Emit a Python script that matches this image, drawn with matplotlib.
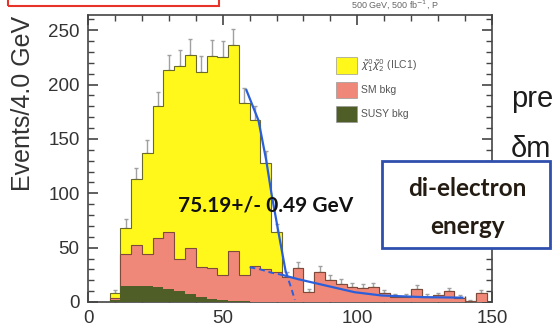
import numpy as np
import matplotlib.pyplot as plt
from matplotlib.patches import Patch, Rectangle
from matplotlib.ticker import MultipleLocator

# 4 GeV bins, 8 .. 152 GeV
bin_edges = np.arange(8, 153, 4)

signal_counts = [4, 24, 61, 93, 121, 149, 177, 177, 180, 195,
                 200, 189, 158, 134, 98, 36, 0, 0, 0, 0,
                 0, 0, 0, 0, 0, 0, 0, 0, 0, 0,
                 0, 0, 0, 0, 0, 0]
sm_counts = [2, 29, 37, 29, 45, 52, 30, 43, 27, 28,
             23, 46, 24, 33, 30, 28, 23, 31, 9, 28,
             20, 17, 14, 13, 14, 8, 5, 5, 12, 5,
             6, 10, 4, 1, 8, 0]
susy_counts = [2, 15, 15, 15, 14, 12, 10, 7, 5, 3,
               2, 1, 1, 0, 0, 0, 0, 0, 0, 0,
               0, 0, 0, 0, 0, 0, 0, 0, 0, 0,
               0, 0, 0, 0, 0, 0]

# fitted curves
edge_fit_e = [58.8, 63.3, 66.2, 68.1, 70.8, 73.4]
edge_fit_v = [195, 167, 130, 100, 63, 28]
edge_tail_e = [73.4, 75.3, 76.8]
edge_tail_v = [28, 14, 2]
bg_dash_e = [60, 64, 68, 72]
bg_dash_v = [32, 30, 27, 25]
bg_fit_e = [72, 78, 85, 92, 99, 109, 124, 139]
bg_fit_v = [25, 21, 17, 13, 9, 6, 4.5, 4]

legend_labels = [r"$\tilde{\chi}_1^0\tilde{\chi}_2^0$ (ILC1)", "SM bkg", "SUSY bkg"]

YELLOW = "#fff81a"
PINK = "#ef8878"
GREEN = "#4e5e26"
BLUE = "#2b5fd9"

W, H = 556, 327


def fx(x):
    return x / W


def fy(y):
    return 1 - y / H


plt.rcParams["font.family"] = ["Liberation Sans", "DejaVu Sans"]

fig = plt.figure(figsize=(W / 100, H / 100), dpi=100)
ax = fig.add_axes([fx(88), fy(302), (492 - 88) / W, (302 - 15) / H])

susy = np.array(susy_counts, dtype=float)
sm_top = susy + np.array(sm_counts)
total = sm_top + np.array(signal_counts)
centers = 0.5 * (bin_edges[:-1] + bin_edges[1:])
err = np.sqrt(total)

ax.errorbar(centers[total > 0], total[total > 0],
            yerr=[np.zeros((total > 0).sum()), err[total > 0]],
            fmt="none", ecolor="#a0a0a0", elinewidth=1, capsize=1.5, zorder=1)

ax.stairs(total, bin_edges, fill=True, color=YELLOW, zorder=2)
ax.stairs(total, bin_edges, color="#6b6a2c", lw=0.8, zorder=2.1)
ax.stairs(sm_top, bin_edges, fill=True, color=PINK, zorder=3)
ax.stairs(sm_top, bin_edges, color="#7d4a3c", lw=0.8, zorder=3.1)
ax.stairs(susy, bin_edges, fill=True, color=GREEN, zorder=4)

ax.plot(edge_fit_e, edge_fit_v, color=BLUE, lw=1.6, zorder=5)
ax.plot(edge_tail_e, edge_tail_v, color=BLUE, lw=1.4, ls=(0, (3, 2)), zorder=5)
ax.plot(bg_dash_e, bg_dash_v, color=BLUE, lw=1.4, ls=(0, (3, 2)), zorder=5)
ax.plot(bg_fit_e, bg_fit_v, color=BLUE, lw=1.6, zorder=5)

ax.set_xlim(0, 150)
ax.set_ylim(0, 264)
ax.xaxis.set_major_locator(MultipleLocator(50))
ax.xaxis.set_minor_locator(MultipleLocator(10))
ax.yaxis.set_major_locator(MultipleLocator(50))
ax.yaxis.set_minor_locator(MultipleLocator(10))
ax.tick_params(which="both", direction="in", top=True, right=True,
               colors="#444", labelcolor="#333", labelsize=13.5)
ax.tick_params(which="major", length=7.5, width=1.2, pad=6)
ax.tick_params(which="minor", length=4, width=1)
for s in ax.spines.values():
    s.set_color("#444")
    s.set_linewidth(1.2)

fig.text(fx(23), fy(103), "Events/4.0 GeV", rotation=90, ha="center", va="center",
         fontsize=18, color="#333")

handles = [Patch(facecolor=c, edgecolor="#999", lw=0.5) for c in (YELLOW, PINK, GREEN)]
ax.legend(handles, legend_labels, loc="upper left",
          bbox_to_anchor=(fx(336), fy(57)), bbox_transform=fig.transFigure,
          frameon=False, fontsize=7.5, handlelength=2.0, handleheight=2.0,
          handletextpad=0.4, labelspacing=0.75, borderpad=0, borderaxespad=0,
          labelcolor="#555")

# annotations pasted on top of the plot
fig.text(fx(178), fy(211), "75.19+/- 0.49 GeV", fontsize=15, fontweight="bold",
         family=["Lato", "DejaVu Sans"], color="#111", ha="left", va="baseline",
         zorder=10)

fig.add_artist(Rectangle((fx(382), fy(248)), (550 - 382) / W, (248 - 161) / H,
                         transform=fig.transFigure, facecolor="white",
                         edgecolor="#2f4fae", lw=2, zorder=9))
fig.text(fx(467), fy(196), "di-electron", fontsize=17.5, fontweight="bold",
         family=["Lato", "DejaVu Sans"], color="#241c12", ha="center", va="baseline",
         zorder=10)
fig.text(fx(467), fy(234), "energy", fontsize=17.5, fontweight="bold",
         family=["Lato", "DejaVu Sans"], color="#241c12", ha="center", va="baseline",
         zorder=10)

fig.text(fx(511), fy(107), "pre", fontsize=21, color="#1c1c1c", ha="left",
         va="baseline")
fig.text(fx(511), fy(157), "δm", fontsize=21, color="#1c1c1c", ha="left",
         va="baseline")

fig.text(fx(395), fy(5), r"500 GeV, 500 fb$^{-1}$, P", fontsize=6.5, color="#666",
         ha="center", va="center")

fig.add_artist(Rectangle((fx(8), fy(6)), (219 - 8) / W, 0.1,
                         transform=fig.transFigure, facecolor="none",
                         edgecolor="#e8332b", lw=1.5, zorder=9))

fig.savefig("out.png", dpi=100)
